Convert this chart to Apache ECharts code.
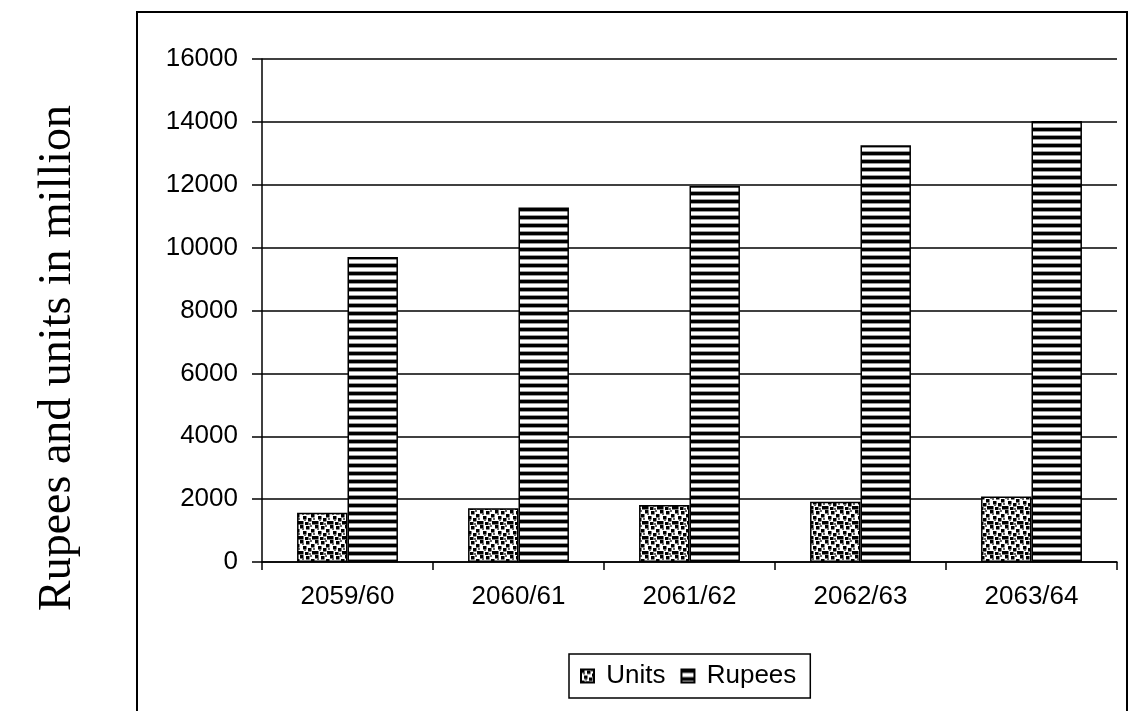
<!DOCTYPE html>
<html>
<head>
<meta charset="utf-8">
<script src="https://cdn.jsdelivr.net/npm/echarts@6/dist/echarts.min.js"></script>
<style>
  html, body { margin: 0; padding: 0; background: #fff; }
  #chart { width: 1134px; height: 711px; }
</style>
</head>
<body>
<div id="chart"></div>
<script>
// Fiscal years (Nepali calendar) and values in million
const years = ['2059/60', '2060/61', '2061/62', '2062/63', '2063/64'];
const units = [1570, 1710, 1810, 1920, 2080];
const rupees = [9700, 11280, 11960, 13260, 14030];
const yMin = 0;
const yMax = 16000;
const yStep = 2000;
const axisTitle = 'Rupees and units in million';

// Speckled fill: black squares scattered on white
function makeDotPattern() {
  const c = document.createElement('canvas');
  c.width = 15; c.height = 15;
  const g = c.getContext('2d');
  g.fillStyle = '#fff';
  g.fillRect(0, 0, 15, 15);
  g.fillStyle = '#000';
  const spots = [[0,0],[6,1],[11,4],[3,6],[8,8],[0,11],[5,12],[12,11]];
  spots.forEach(p => g.fillRect(p[0], p[1], 3.5, 3.5));
  g.fillStyle = '#666';
  [[10,0],[2,3],[4,9],[9,13],[13,8]].forEach(p => g.fillRect(p[0], p[1], 2, 2));
  return c;
}

// Horizontal stripe fill: thick black line, grey edges, white gap
function makeStripePattern() {
  const c = document.createElement('canvas');
  c.width = 8; c.height = 8;
  const g = c.getContext('2d');
  g.fillStyle = '#fff';
  g.fillRect(0, 0, 8, 8);
  g.fillStyle = '#000';
  g.fillRect(0, 0, 8, 3);
  g.fillStyle = '#999';
  g.fillRect(0, 3, 8, 1);
  g.fillRect(0, 7, 8, 1);
  return c;
}

const dotFill = { image: makeDotPattern(), repeat: 'repeat' };
const stripeFill = { image: makeStripePattern(), repeat: 'repeat' };

const sansFont = "'Liberation Sans', Arial, sans-serif";
const serifFont = "'Liberation Serif', 'Times New Roman', serif";

const chart = echarts.init(document.getElementById('chart'), null, { renderer: 'canvas' });

chart.setOption({
  backgroundColor: '#fff',
  animation: false,
  grid: { left: 262, right: 17, top: 59, bottom: 149, containLabel: false },
  graphic: [
    {
      type: 'rect',
      shape: { x: 137, y: 12, width: 990, height: 720 },
      style: { fill: 'none', stroke: '#000', lineWidth: 2 },
      silent: true
    },
    {
      type: 'text',
      x: 58, y: 358,
      rotation: Math.PI / 2,
      style: {
        text: axisTitle,
        font: '46px ' + serifFont,
        fill: '#000',
        align: 'center',
        verticalAlign: 'middle'
      }
    }
  ],
  legend: {
    left: 569, top: 654,
    orient: 'horizontal',
    itemWidth: 13, itemHeight: 13,
    itemGap: 15,
    padding: [9, 14, 9, 11],
    borderColor: '#000', borderWidth: 1.5,
    icon: 'rect',
    formatter: name => ' ' + name,
    textStyle: { fontFamily: sansFont, fontSize: 26, color: '#000' },
    data: ['Units', 'Rupees']
  },
  xAxis: {
    type: 'category',
    data: years,
    axisLine: { lineStyle: { color: '#000', width: 1.5 } },
    axisTick: { show: true, alignWithLabel: false, length: 8, lineStyle: { color: '#000', width: 1.5 } },
    axisLabel: { fontFamily: sansFont, fontSize: 26, color: '#000', margin: 22 },
    splitLine: { show: false }
  },
  yAxis: {
    type: 'value',
    min: yMin, max: yMax, interval: yStep,
    axisLine: { show: true, lineStyle: { color: '#000', width: 1.5 } },
    axisTick: { show: true, length: 10, lineStyle: { color: '#000', width: 1.5 } },
    axisLabel: {
      fontFamily: sansFont, fontSize: 26, color: '#000', margin: 24,
      formatter: v => String(v)
    },
    splitLine: { show: true, lineStyle: { color: '#000', width: 1.5 } }
  },
  series: [
    {
      name: 'Units',
      type: 'bar',
      data: units,
      barGap: '0%',
      barCategoryGap: '41%',
      itemStyle: { color: dotFill, borderColor: '#000', borderWidth: 1.5 }
    },
    {
      name: 'Rupees',
      type: 'bar',
      data: rupees,
      itemStyle: { color: stripeFill, borderColor: '#000', borderWidth: 1.5 }
    }
  ]
});
</script>
</body>
</html>
